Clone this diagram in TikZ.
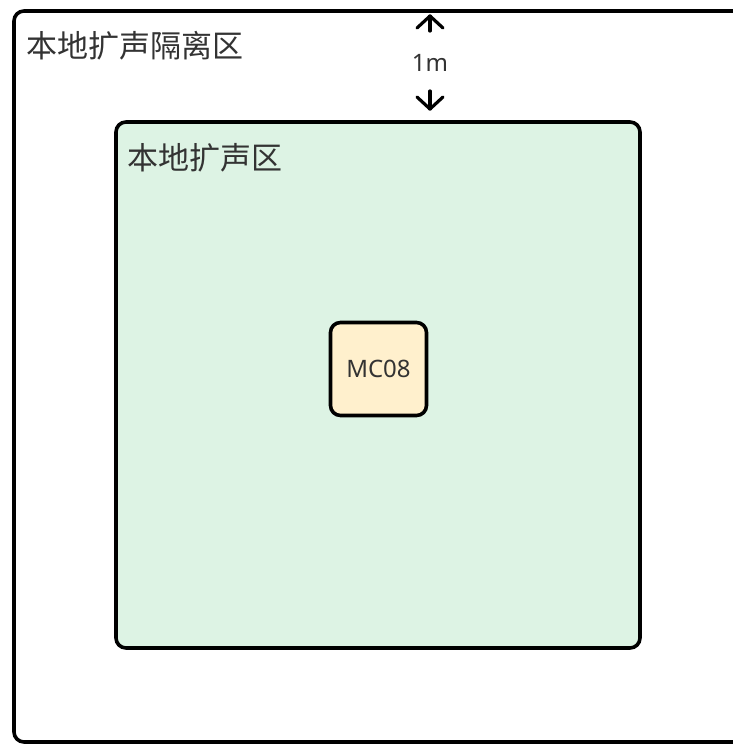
\documentclass[tikz,border=0pt]{standalone}
\usepackage{fontspec}
\setmainfont{Noto Sans}
\newfontfamily\cjk{Noto Sans CJK SC}
\definecolor{zonegreen}{HTML}{DDF3E4}
\definecolor{devyellow}{HTML}{FFF0CD}
\definecolor{txtgray}{HTML}{333333}
\tikzset{
  zonebox/.style={draw=black, line width=3.6pt, rounded corners=10pt},
  zonelabel/.style={anchor=west, text=txtgray, inner sep=0pt, font=\cjk\fontsize{31}{34}\selectfont},
  dimlabel/.style={text=txtgray, inner sep=0pt, font=\fontsize{24}{27}\selectfont},
  dimarrow/.style={line width=3.2pt, line cap=round, line join=round}
}
\begin{document}
\begin{tikzpicture}[x=1pt,y=-1pt]
\useasboundingbox (0,0) rectangle (733,745);
\begin{scope}
\clip (0,0) rectangle (733,745);
\draw[zonebox, fill=white] (14,11) rectangle (780,742);
\end{scope}
\node[zonelabel] (outerlbl) at (26,46) {本地扩声隔离区};
\draw[zonebox, fill=zonegreen] (116,122) rectangle (640,648);
\node[zonelabel] (innerlbl) at (127,158) {本地扩声区};
\node[draw=black, line width=3.6pt, rounded corners=10pt, fill=devyellow, minimum width=96pt, minimum height=93pt, inner sep=0pt, text=txtgray, font=\fontsize{24}{27}\selectfont] (mc) at (378.5,369) {MC08};
\node[dimlabel] (dim) at (430,63) {1m};
\coordinate (uptail) at (430,31);
\coordinate (uptip) at (430,16);
\coordinate (upl) at (417,28);
\coordinate (upr) at (443,28);
\coordinate (dntail) at (430,91);
\coordinate (dntip) at (430,109);
\coordinate (dnl) at (417,97);
\coordinate (dnr) at (443,97);
\draw[dimarrow] (uptail) -- (uptip);
\draw[dimarrow] (upl) -- (uptip) -- (upr);
\draw[dimarrow] (dntail) -- (dntip);
\draw[dimarrow] (dnl) -- (dntip) -- (dnr);
\end{tikzpicture}
\end{document}
